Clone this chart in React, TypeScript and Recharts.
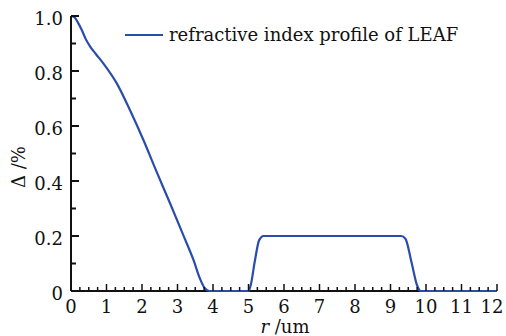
import { LineChart, Line, XAxis, YAxis } from "recharts"

const serif = "'DejaVu Serif', serif"
const lineColor = "#2a4dab"

// radius r (um) and relative index difference (%)
const radius = [
  0, 0.1, 0.2, 0.3, 0.42, 0.54, 0.7, 0.91, 1.29, 1.66, 2.04, 2.41, 2.79, 3.16,
  3.45, 3.63, 3.77, 3.9, 4.5, 5.0, 5.06, 5.18, 5.3, 5.42, 6.5, 8, 9.3, 9.42,
  9.6, 9.75, 9.85, 11, 12,
]
const delta = [
  1.0, 0.995, 0.975, 0.95, 0.915, 0.889, 0.862, 0.828, 0.755, 0.658, 0.549,
  0.434, 0.319, 0.204, 0.113, 0.046, 0.01, 0, 0, 0, 0.02, 0.11, 0.185, 0.2,
  0.2, 0.2, 0.2, 0.19, 0.1, 0.02, 0, 0, 0,
]

const xMajorTicks = [0, 1, 2, 3, 4, 5, 6, 7, 8, 9, 10, 11, 12]
const yMajorTicks = [0, 0.2, 0.4, 0.6, 0.8, 1.0]
const yTickLabels = ["0", "0.2", "0.4", "0.6", "0.8", "1.0"]
const seriesName = "refractive index profile of LEAF"

const data = radius.map((r, i) => ({ r, value: delta[i] }))

// minor ticks: quarters on x, tenths on y
const xTicks: number[] = []
for (let i = 0; i <= 48; i++) xTicks.push(i / 4)
const yTicks: number[] = []
for (let i = 0; i <= 10; i++) yTicks.push(i / 10)

const isMajor = (v: number, list: number[]) => list.some((m) => Math.abs(m - v) < 1e-6)

function XTick(props: any) {
  const { x, y, payload } = props
  const major = isMajor(payload.value, xMajorTicks)
  // last label sits against the right edge
  const shift = payload.value === 12 ? -5 : 0
  return (
    <g>
      <line x1={x} y1={y} x2={x} y2={y - (major ? 7 : 4)} stroke="#111" strokeWidth={1.5} />
      {major && (
        <text x={x + shift} y={y + 22} textAnchor="middle" fontSize={18} fontFamily={serif} fill="#111">
          {payload.value}
        </text>
      )}
    </g>
  )
}

function YTick(props: any) {
  const { x, y, payload } = props
  const idx = yMajorTicks.findIndex((m) => Math.abs(m - payload.value) < 1e-6)
  return (
    <g>
      <line x1={x} y1={y} x2={x + (idx >= 0 ? 8 : 5)} y2={y} stroke="#111" strokeWidth={2} />
      {idx >= 0 && (
        <text x={x - 8} y={y + 9} textAnchor="end" fontSize={18} fontFamily={serif} fill="#111">
          {yTickLabels[idx]}
        </text>
      )}
    </g>
  )
}

export default function App() {
  return (
    <div style={{ position: "absolute", left: 0, top: 0, background: "#fff" }}>
      <LineChart width={506} height={336} data={data} margin={{ top: 16, right: 9, left: 11, bottom: 15 }}>
        <XAxis
          type="number"
          dataKey="r"
          domain={[0, 12]}
          ticks={xTicks}
          interval={0}
          tick={<XTick />}
          tickLine={false}
          tickSize={0}
          tickMargin={0}
          height={30}
          axisLine={{ stroke: "#111", strokeWidth: 2 }}
        />
        <YAxis
          type="number"
          domain={[0, 1]}
          ticks={yTicks}
          interval={0}
          tick={<YTick />}
          tickLine={false}
          tickSize={0}
          tickMargin={0}
          width={60}
          axisLine={{ stroke: "#111", strokeWidth: 2 }}
        />
        <Line
          type="monotone"
          dataKey="value"
          name={seriesName}
          stroke={lineColor}
          strokeWidth={2.2}
          dot={false}
          isAnimationActive={false}
          zIndex={1000}
        />
        <line x1={125} y1={35} x2={163} y2={35} stroke={lineColor} strokeWidth={2} />
        <text x={169} y={41} fontSize={18} fontFamily={serif} fill="#111">
          {seriesName}
        </text>
        <text x={25} y={167} transform="rotate(-90 25 167)" textAnchor="middle" fontSize={18} fontFamily={serif} fill="#111">
          Δ /%
        </text>
        <text x={285} y={333} textAnchor="middle" fontSize={18} fontFamily={serif} fill="#111">
          <tspan fontStyle="italic">r</tspan> /um
        </text>
      </LineChart>
    </div>
  )
}
